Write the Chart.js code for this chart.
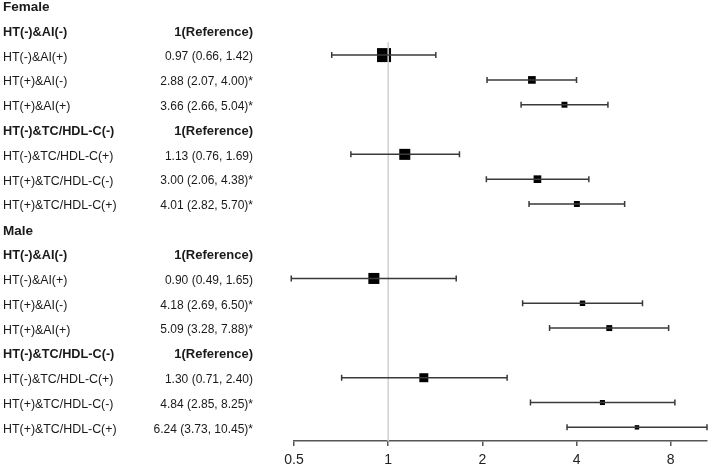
<!DOCTYPE html>
<html>
<head>
<meta charset="utf-8">
<script src="https://cdn.jsdelivr.net/npm/chart.js@4.4.1/dist/chart.umd.min.js"></script>
<style>
  html, body { margin: 0; padding: 0; background: #fff; }
  #c { display: block; }
</style>
</head>
<body>
<canvas id="c" width="709" height="466"></canvas>
<script>
// ---- Data ----
const rowLabels = [
  'Female',
  'HT(-)&AI(-)', 'HT(-)&AI(+)', 'HT(+)&AI(-)', 'HT(+)&AI(+)',
  'HT(-)&TC/HDL-C(-)', 'HT(-)&TC/HDL-C(+)', 'HT(+)&TC/HDL-C(-)', 'HT(+)&TC/HDL-C(+)',
  'Male',
  'HT(-)&AI(-)', 'HT(-)&AI(+)', 'HT(+)&AI(-)', 'HT(+)&AI(+)',
  'HT(-)&TC/HDL-C(-)', 'HT(-)&TC/HDL-C(+)', 'HT(+)&TC/HDL-C(-)', 'HT(+)&TC/HDL-C(+)'
];
// 'group' = sex heading, 'ref' = reference category, 'item' = estimate row
const rowKinds = [
  'group', 'ref', 'item', 'item', 'item', 'ref', 'item', 'item', 'item',
  'group', 'ref', 'item', 'item', 'item', 'ref', 'item', 'item', 'item'
];
const estimates = [null, null, 0.97, 2.88, 3.66, null, 1.13, 3.00, 4.01,
                   null, null, 0.90, 4.18, 5.09, null, 1.30, 4.84, 6.24];
const lowerCI   = [null, null, 0.66, 2.07, 2.66, null, 0.76, 2.06, 2.82,
                   null, null, 0.49, 2.69, 3.28, null, 0.71, 2.85, 3.73];
const upperCI   = [null, null, 1.42, 4.00, 5.04, null, 1.69, 4.38, 5.70,
                   null, null, 1.65, 6.50, 7.88, null, 2.40, 8.25, 10.45];
const significant = [false, false, false, true, true, false, false, true, true,
                     false, false, false, true, true, false, false, true, true];
// relative study weights (box area)
const weights = [0, 0, 1.00, 0.30, 0.18, 0, 0.62, 0.30, 0.18,
                 0, 0, 0.62, 0.15, 0.18, 0, 0.41, 0.13, 0.10];
const xTicks = [0.5, 1, 2, 4, 8];
const refValue = 1;
const referenceText = '1(Reference)';

// ---- Styles ----
const FONT = '"Liberation Sans", Arial, sans-serif';
const MAX_BOX = 14;
const boxSide = w => MAX_BOX * Math.sqrt(w);

const markerData = [];
estimates.forEach((v, i) => { if (v !== null) markerData.push({ x: v, y: i, w: weights[i] }); });

const valueText = i => {
  if (rowKinds[i] === 'ref') return referenceText;
  if (estimates[i] === null) return '';
  return estimates[i].toFixed(2) + ' (' + lowerCI[i].toFixed(2) + ', ' + upperCI[i].toFixed(2) + ')' + (significant[i] ? '*' : '');
};

const forestPlugin = {
  id: 'forest',
  afterDatasetDraw(chart, args) {
    if (args.index !== 0) return;
    const ctx = chart.ctx, xs = chart.scales.x, ys = chart.scales.y;
    ctx.save();
    ctx.strokeStyle = '#3a3a3a';
    ctx.lineWidth = 1.5;
    estimates.forEach((v, i) => {
      if (v === null) return;
      const y = ys.getPixelForValue(i);
      const x0 = xs.getPixelForValue(lowerCI[i]);
      const x1 = xs.getPixelForValue(upperCI[i]);
      ctx.beginPath();
      ctx.moveTo(x0, y); ctx.lineTo(x1, y);
      ctx.moveTo(x0, y - 3); ctx.lineTo(x0, y + 3);
      ctx.moveTo(x1, y - 3); ctx.lineTo(x1, y + 3);
      ctx.stroke();
    });
    ctx.restore();
  },
  afterDraw(chart) {
    const ctx = chart.ctx, ys = chart.scales.y;
    ctx.save();
    ctx.fillStyle = '#1a1a1a';
    ctx.textBaseline = 'middle';
    rowLabels.forEach((lab, i) => {
      const y = ys.getPixelForValue(i) + 2;
      const kind = rowKinds[i];
      ctx.font = kind === 'group' ? 'bold 13.5px ' + FONT : (kind === 'ref' ? 'bold 12.7px ' + FONT : '12.4px ' + FONT);
      ctx.textAlign = 'left';
      ctx.fillText(lab, 3, y);
      const t = valueText(i);
      if (t) {
        ctx.textAlign = 'right';
        ctx.font = kind === 'ref' ? 'bold 13px ' + FONT : '12px ' + FONT;
        ctx.fillText(t, 253, y);
      }
    });
    ctx.restore();
  }
};

new Chart(document.getElementById('c'), {
  type: 'scatter',
  data: {
    datasets: [
      {
        type: 'line',
        data: [{ x: refValue, y: 1.47 }, { x: refValue, y: 17.55 }],
        borderColor: '#d0d0d0',
        borderWidth: 1.5,
        pointRadius: 0,
        fill: false
      },
      {
        data: markerData,
        pointStyle: 'rect',
        backgroundColor: '#000',
        borderColor: '#000',
        borderWidth: 0,
        pointRadius: ctx => {
          const d = ctx.raw;
          return d ? boxSide(d.w) / Math.SQRT2 : 0;
        },
        pointHoverRadius: ctx => {
          const d = ctx.raw;
          return d ? boxSide(d.w) / Math.SQRT2 : 0;
        }
      }
    ]
  },
  options: {
    responsive: false,
    animation: false,
    layout: { autoPadding: false, padding: { left: 294, right: 2, top: 0, bottom: 0 } },
    plugins: { legend: { display: false }, tooltip: { enabled: false } },
    scales: {
      x: {
        type: 'logarithmic',
        position: 'bottom',
        min: 0.5,
        max: 10.45,
        afterFit: s => { s.height = 25; s.paddingLeft = 0; s.paddingRight = 0; },
        afterBuildTicks: s => { s.ticks = xTicks.map(v => ({ value: v })); },
        ticks: {
          callback: v => String(v),
          autoSkip: false,
          maxRotation: 0,
          color: '#222',
          padding: 6,
          font: { family: FONT, size: 14 }
        },
        grid: { drawOnChartArea: false, drawTicks: true, tickLength: 5, color: '#555', lineWidth: 1.5 },
        border: { display: true, color: '#555', width: 1.5 }
      },
      y: {
        type: 'linear',
        reverse: true,
        min: -0.22,
        max: 17.55,
        display: false
      }
    }
  },
  plugins: [forestPlugin]
});
</script>
</body>
</html>
